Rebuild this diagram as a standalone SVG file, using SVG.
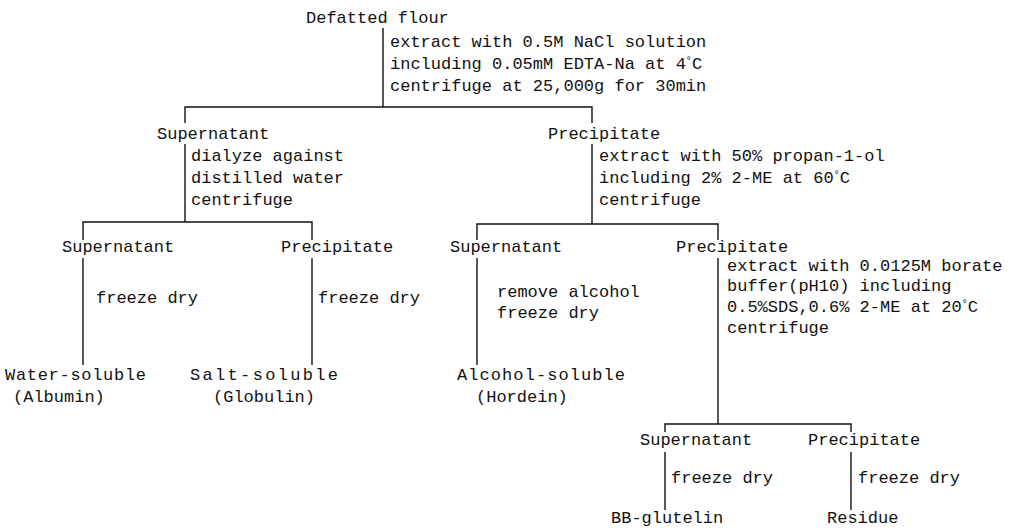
<svg xmlns="http://www.w3.org/2000/svg" width="1031" height="528" viewBox="0 0 1031 528">
<style>
text{font-family:"Liberation Mono","DejaVu Sans Mono",monospace;font-size:17px;fill:#111;}
.deg{font-size:10px;}
#connectors path{fill:none;stroke:#111;stroke-width:1.4;}
</style>
<rect width="1031" height="528" fill="#fff"/>
<g id="connectors">
<path d="M383,28 V107"/>
<path d="M185,123 V107 H592 V123"/>
<path d="M185,144 V222"/>
<path d="M592,144 V224"/>
<path d="M83,240 V222 H312 V240"/>
<path d="M83,258 V365"/>
<path d="M312,258 V365"/>
<path d="M477,240 V224 H718 V240"/>
<path d="M477,258 V365"/>
<path d="M718,258 V424"/>
<path d="M665,432 V424 H851 V432"/>
<path d="M665,452 V510"/>
<path d="M851,452 V510"/>
</g>
<g id="defatted-flour">
<text x="306" y="23">Defatted flour</text>
<text x="390" y="47">extract with 0.5M NaCl solution</text>
<text x="390" y="69">including 0.05mM EDTA-Na at 4<tspan class="deg" dy="-5">°</tspan><tspan dy="5">C</tspan></text>
<text x="390" y="91">centrifuge at 25,000g for 30min</text>
</g>
<g id="supernatant-1">
<text x="157" y="139">Supernatant</text>
<text x="191" y="161">dialyze against</text>
<text x="191" y="183">distilled water</text>
<text x="191" y="205">centrifuge</text>
</g>
<g id="precipitate-1">
<text x="548" y="139">Precipitate</text>
<text x="599" y="161">extract with 50% propan-1-ol</text>
<text x="599" y="183">including 2% 2-ME at 60<tspan class="deg" dy="-5">°</tspan><tspan dy="5">C</tspan></text>
<text x="599" y="205">centrifuge</text>
</g>
<g id="supernatant-2a">
<text x="62" y="252">Supernatant</text>
<text x="96" y="303">freeze dry</text>
</g>
<g id="water-soluble">
<text x="5" y="380" textLength="141">Water-soluble</text>
<text x="13" y="402">(Albumin)</text>
</g>
<g id="precipitate-2a">
<text x="281" y="252">Precipitate</text>
<text x="318" y="303">freeze dry</text>
</g>
<g id="salt-soluble">
<text x="190" y="380" textLength="148">Salt-soluble</text>
<text x="213" y="402">(Globulin)</text>
</g>
<g id="supernatant-2b">
<text x="450" y="252">Supernatant</text>
<text x="497" y="297">remove alcohol</text>
<text x="497" y="318">freeze dry</text>
</g>
<g id="alcohol-soluble">
<text x="457" y="380" textLength="168">Alcohol-soluble</text>
<text x="476" y="402">(Hordein)</text>
</g>
<g id="precipitate-2b">
<text x="676" y="252">Precipitate</text>
<text x="727" y="271">extract with 0.0125M borate</text>
<text x="727" y="291">buffer(pH10) including</text>
<text x="727" y="312">0.5%SDS,0.6% 2-ME at 20<tspan class="deg" dy="-5">°</tspan><tspan dy="5">C</tspan></text>
<text x="727" y="333">centrifuge</text>
</g>
<g id="supernatant-3">
<text x="640" y="445">Supernatant</text>
<text x="671" y="483">freeze dry</text>
</g>
<g id="bb-glutelin">
<text x="611" y="523">BB-glutelin</text>
</g>
<g id="precipitate-3">
<text x="808" y="445">Precipitate</text>
<text x="858" y="483">freeze dry</text>
</g>
<g id="residue">
<text x="827" y="523">Residue</text>
</g>
</svg>
